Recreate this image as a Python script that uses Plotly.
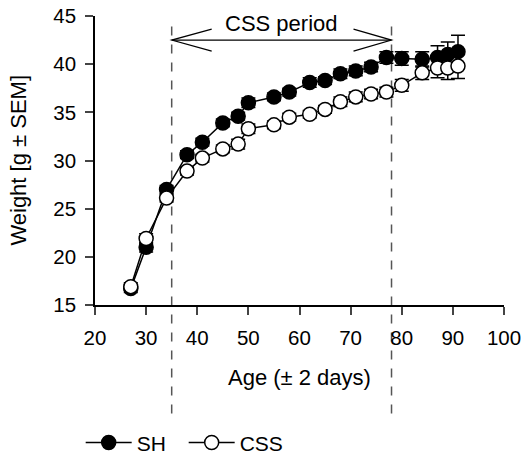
import plotly.graph_objects as go

# ---- data ----
age = [27, 30, 34, 38, 41, 45, 48, 50, 55, 58, 62, 65, 68, 71, 74, 77, 80, 84, 87, 89, 91]
sh_mean = [16.7, 21.0, 27.0, 30.6, 31.9, 33.9, 34.6, 36.0, 36.6, 37.1, 38.1, 38.3, 39.0, 39.3, 39.7, 40.7, 40.6, 40.5, 40.7, 41.0, 41.3]
sh_sem = [0.4, 0.5, 0.4, 0.4, 0.4, 0.4, 0.4, 0.5, 0.4, 0.4, 0.5, 0.4, 0.5, 0.5, 0.5, 0.6, 0.7, 0.8, 1.2, 1.3, 1.7]
css_mean = [16.9, 21.9, 26.1, 28.9, 30.25, 31.2, 31.7, 33.3, 33.7, 34.5, 34.8, 35.3, 36.1, 36.6, 36.9, 37.1, 37.8, 39.1, 39.6, 39.6, 39.8]
css_sem = [0.4, 0.5, 0.4, 0.4, 0.4, 0.4, 0.5, 0.5, 0.4, 0.4, 0.4, 0.4, 0.5, 0.5, 0.5, 0.5, 0.6, 0.7, 1.0, 1.2, 1.3]
css_start, css_end = 35, 78
x_ticks = [20, 30, 40, 50, 60, 70, 80, 90, 100]
y_ticks = [15, 20, 25, 30, 35, 40, 45]

FONT = "Liberation Sans, Arial, sans-serif"
FS_TICK = 20.5
FS_TITLE = 22

fig = go.Figure()

def add_series(name, y, e, fill):
    fig.add_trace(go.Scatter(
        x=age, y=y, name=name, mode="lines+markers",
        line=dict(color="black", width=1.5),
        marker=dict(symbol="circle", size=14, color=fill, line=dict(color="black", width=1.5)),
        error_y=dict(type="data", array=e, visible=True, color="black", thickness=1.5, width=7),
        cliponaxis=False,
    ))

add_series("SH", sh_mean, sh_sem, "black")
add_series("CSS", css_mean, css_sem, "white")

shapes = []
for xv in (css_start, css_end):
    shapes.append(dict(type="line", xref="x", yref="paper", x0=xv, x1=xv, y0=-0.375, y1=0.99,
                       line=dict(color="#555555", width=1.5, dash="dash"), layer="below"))
ya = 42.5
shapes.append(dict(type="line", xref="x", yref="y", x0=css_start, x1=css_end, y0=ya, y1=ya,
                   line=dict(color="black", width=1.2)))
shapes.append(dict(type="path", xref="x", yref="y", xsizemode="pixel", ysizemode="pixel",
                   xanchor=css_start, yanchor=ya, path="M40,11 L0,0 L40,-11",
                   line=dict(color="black", width=1.2)))
shapes.append(dict(type="path", xref="x", yref="y", xsizemode="pixel", ysizemode="pixel",
                   xanchor=css_end, yanchor=ya, path="M-38,11 L0,0 L-38,-11",
                   line=dict(color="black", width=1.2)))

annotations = [
    dict(text="CSS period", x=(css_start + css_end) / 2, y=ya, xref="x", yref="y",
         yshift=17, showarrow=False, font=dict(size=FS_TITLE, color="black", family=FONT)),
    dict(text="Age (± 2 days)", x=0.5, y=-0.25, xref="paper", yref="paper",
         xanchor="center", yanchor="middle",
         showarrow=False, font=dict(size=FS_TITLE, color="black", family=FONT)),
    dict(text="Weight [g ± SEM]", x=-0.188, y=0.5, xref="paper", yref="paper", textangle=-90,
         xanchor="center", yanchor="middle",
         showarrow=False, font=dict(size=FS_TITLE, color="black", family=FONT)),
]

fig.update_layout(
    width=528, height=454,
    margin=dict(l=95, r=24, t=16, b=149, autoexpand=False),
    paper_bgcolor="white", plot_bgcolor="white",
    font=dict(family=FONT, size=FS_TICK, color="black"),
    showlegend=True,
    legend=dict(orientation="h", x=-0.035, y=-0.477, xanchor="left", yanchor="middle",
                font=dict(size=21, family=FONT), itemwidth=46, tracegroupgap=0,
                entrywidth=42, bgcolor="rgba(0,0,0,0)"),
    shapes=shapes, annotations=annotations,
    xaxis=dict(range=[20, 100], tickvals=x_ticks, ticks="outside", ticklen=8, tickwidth=1.5,
               showline=True, linecolor="black", linewidth=1.5, showgrid=False, zeroline=False,
               ticklabelstandoff=6,
               tickfont=dict(size=FS_TICK, family=FONT)),
    yaxis=dict(range=[15, 45], tickvals=y_ticks, ticks="outside", ticklen=8, tickwidth=1.5,
               showline=True, linecolor="black", linewidth=1.5, showgrid=False, zeroline=False,
               ticklabelstandoff=5,
               tickfont=dict(size=FS_TICK, family=FONT)),
)

fig.write_html("out.html")
